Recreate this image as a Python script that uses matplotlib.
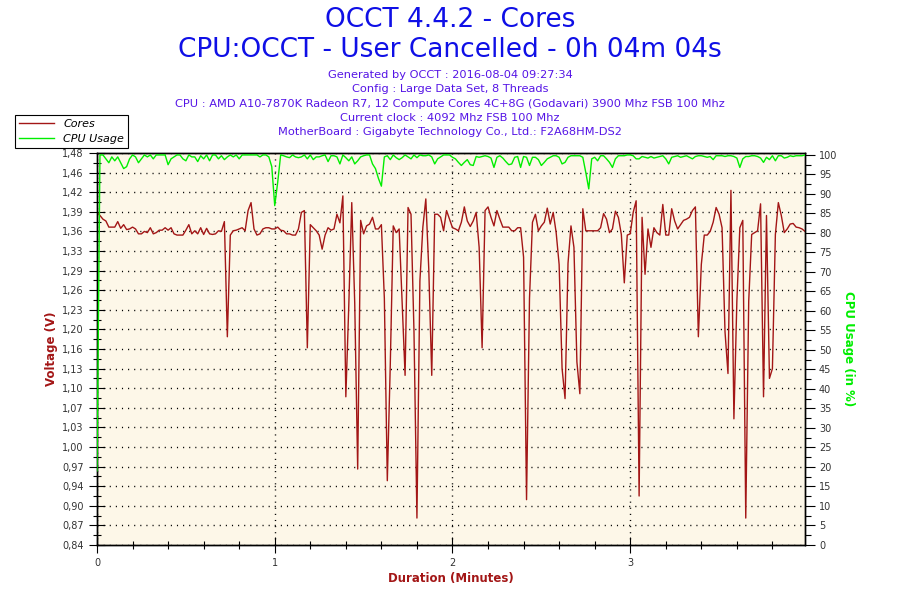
import numpy as np
import matplotlib
matplotlib.use('Agg')
from matplotlib import pyplot as plt
from matplotlib.ticker import MultipleLocator, FixedLocator

# naglowek wykresu
title = 'OCCT 4.4.2 - Cores'
subtitle = 'CPU:OCCT - User Cancelled - 0h 04m 04s'
info_lines = [
    'Generated by OCCT : 2016-08-04 09:27:34',
    'Config : Large Data Set, 8 Threads',
    'CPU : AMD A10-7870K Radeon R7, 12 Compute Cores 4C+8G (Godavari) 3900 Mhz FSB 100 Mhz',
    'Current clock : 4092 Mhz FSB 100 Mhz',
    'MotherBoard : Gigabyte Technology Co., Ltd.: F2A68HM-DS2',
]

# etykiety lewej osi (od dolu do gory)
volt_labels = ['0,84', '0,87', '0,90', '0,94', '0,97', '1,00', '1,03', '1,07',
               '1,10', '1,13', '1,16', '1,20', '1,23', '1,26', '1,29', '1,33',
               '1,36', '1,39', '1,42', '1,46', '1,48']
volt_min, volt_max = 0.84, 1.48
x_labels = ['0', '1', '2', '3']

# napiecie rdzeni [V], jedna probka na sekunde
voltage = [
    1.383, 1.378, 1.372, 1.369, 1.359, 1.359, 1.359, 1.368, 1.357, 1.363,
    1.355, 1.356, 1.359, 1.356, 1.348, 1.348, 1.352, 1.350, 1.358, 1.348,
    1.350, 1.354, 1.354, 1.358, 1.354, 1.358, 1.348, 1.346, 1.346, 1.346,
    1.354, 1.363, 1.348, 1.353, 1.348, 1.358, 1.347, 1.357, 1.348, 1.347,
    1.348, 1.353, 1.352, 1.368, 1.180, 1.346, 1.353, 1.354, 1.356, 1.358,
    1.353, 1.386, 1.399, 1.356, 1.346, 1.348, 1.356, 1.358, 1.358, 1.356,
    1.356, 1.359, 1.354, 1.353, 1.348, 1.348, 1.346, 1.346, 1.356, 1.383,
    1.386, 1.162, 1.363, 1.358, 1.353, 1.346, 1.323, 1.346, 1.358, 1.354,
    1.356, 1.380, 1.366, 1.410, 1.082, 1.232, 1.399, 1.235, 0.964, 1.370,
    1.348, 1.361, 1.364, 1.375, 1.356, 1.356, 1.363, 1.243, 0.945, 1.134,
    1.361, 1.350, 1.356, 1.238, 1.117, 1.391, 1.380, 1.189, 0.884, 1.271,
    1.359, 1.405, 1.290, 1.117, 1.380, 1.380, 1.375, 1.353, 1.386, 1.372,
    1.358, 1.356, 1.353, 1.367, 1.392, 1.369, 1.360, 1.369, 1.383, 1.326,
    1.162, 1.386, 1.392, 1.375, 1.361, 1.386, 1.372, 1.359, 1.359, 1.359,
    1.353, 1.353, 1.358, 1.358, 1.310, 0.914, 1.243, 1.367, 1.380, 1.353,
    1.361, 1.367, 1.390, 1.364, 1.383, 1.350, 1.298, 1.128, 1.079, 1.300,
    1.361, 1.326, 1.139, 1.087, 1.389, 1.353, 1.353, 1.353, 1.353, 1.353,
    1.358, 1.381, 1.372, 1.350, 1.356, 1.385, 1.375, 1.347, 1.268, 1.346,
    1.348, 1.383, 1.402, 0.920, 1.375, 1.282, 1.356, 1.326, 1.358, 1.350,
    1.346, 1.396, 1.346, 1.346, 1.389, 1.369, 1.356, 1.363, 1.370, 1.372,
    1.375, 1.386, 1.392, 1.180, 1.298, 1.346, 1.346, 1.352, 1.367, 1.391,
    1.380, 1.358, 1.188, 1.120, 1.419, 1.046, 1.238, 1.358, 1.370, 0.884,
    1.238, 1.347, 1.350, 1.353, 1.397, 1.082, 1.378, 1.112, 1.128, 1.347,
    1.399, 1.378, 1.350, 1.356, 1.364, 1.365, 1.359, 1.358, 1.356, 1.352,
]

# obciazenie CPU [%]
cpu_usage = [
    19, 100, 100, 99, 98, 99.5, 98.5, 99.5, 98, 96.5,
    97, 99, 100, 99.5, 98, 99, 100, 99.5, 100, 99,
    100, 100, 100, 100, 97.5, 99, 99.5, 100, 100, 99,
    98.5, 100, 99.5, 99.5, 98.3, 99.8, 99, 100, 98.5, 100,
    100, 99, 99.8, 98.8, 99.5, 100, 99.5, 100, 99, 100,
    100, 100, 100, 100, 100, 99.5, 100, 100, 99.5, 97,
    87, 93, 100, 99.8, 99.5, 99.3, 100, 99.5, 99.3, 99.5,
    100, 99, 100, 98.8, 99.5, 99.5, 99.8, 100, 98.3, 99.8,
    99.8, 99.5, 97.7, 100, 99.3, 98.5, 99.5, 97.7, 98.5, 99.5,
    99.8, 100, 100, 97.7, 96.5, 94, 92, 99.5, 99.8, 98.8,
    100, 99.3, 98.8, 99.3, 100, 99.5, 99, 100, 99.3, 100,
    99.8, 99.8, 100, 99.5, 97.7, 99, 99.5, 100, 100, 100,
    99.4, 99.0, 98.1, 97.3, 98.1, 98.8, 97.5, 97.3, 99.6, 99.4,
    99.6, 99.8, 99.6, 99.2, 96.8, 99.4, 99.8, 99.2, 98.3, 97.5,
    97.7, 99.4, 99.6, 96.8, 99.6, 99.4, 97.3, 99.4, 99.4, 98.8,
    97.3, 98.1, 99.0, 99.4, 99.8, 99.8, 99.4, 97.7, 98.1, 99.4,
    99.8, 99.8, 99.8, 99.8, 99.4, 95.5, 91.3, 99.0, 99.4, 98.5,
    99.8, 99.8, 99.0, 98.1, 96.8, 99.0, 99.8, 99.8, 99.8, 100,
    100, 99.8, 99.0, 99.0, 99.6, 99.4, 99.2, 99.6, 99.2, 99.4,
    99.6, 99.8, 99.0, 97.7, 99.4, 99.6, 99.8, 99.4, 99.6, 99.8,
    99.4, 99.0, 99.6, 99.8, 99.8, 99.6, 99.4, 99.6, 98.8, 99.8,
    99.8, 99.8, 99.6, 99.8, 99.8, 99.6, 99.2, 96.8, 99.0, 99.6,
    99.6, 99.8, 99.8, 99.6, 99.2, 98.1, 99.4, 98.8, 99.8, 98.5,
    99.8, 99.8, 99.2, 99.4, 99.8, 99.6, 99.8, 99.8, 99.8, 100,
]

RED = '#A31616'
GREEN = '#00EE00'
BLUE = '#0F0FE6'
PURPLE = '#5514E6'
TICK = '#333333'


def style_ticks(axis, which, direction, length):
    axis.tick_params(axis='both', which=which, direction=direction, length=length,
                     width=0.8, color='black', labelsize=7, labelcolor=TICK)


def plot_chart():
    t = np.arange(len(voltage)) / 60.0

    fig = plt.figure(figsize=(9, 6), dpi=100)
    fig.patch.set_facecolor('white')

    fig.text(0.5, 1 - 20 / 600, title, ha='center', va='center', fontsize=19, color=BLUE)
    fig.text(0.5, 1 - 50 / 600, subtitle, ha='center', va='center', fontsize=19, color=BLUE)
    for i, line in enumerate(info_lines):
        fig.text(0.5, 1 - (75 + i * 14.3) / 600, line, ha='center', va='center',
                 fontsize=8.2, color=PURPLE)

    ax = fig.add_axes([97 / 900, 55 / 600, 708 / 900, 392 / 600])
    ax.set_facecolor('#FDF7E8')
    ax2 = ax.twinx()

    l1, = ax.plot(t, voltage, color=RED, lw=1.0, zorder=3)
    l2, = ax2.plot(t, cpu_usage, color=GREEN, lw=1.0, zorder=3)

    ax.set_xlim(0, t[-1])
    ax.set_ylim(volt_min, volt_max)
    ax2.set_ylim(0, 100.5)

    yt = np.linspace(volt_min, volt_max, len(volt_labels))
    ax.yaxis.set_major_locator(FixedLocator(yt))
    ax.set_yticklabels(volt_labels)
    ax.yaxis.set_minor_locator(FixedLocator((yt[:-1] + yt[1:]) / 2))
    ax.xaxis.set_major_locator(FixedLocator(range(len(x_labels))))
    ax.set_xticklabels(x_labels)
    ax.xaxis.set_minor_locator(MultipleLocator(0.2))
    ax2.yaxis.set_major_locator(MultipleLocator(5))
    ax2.yaxis.set_minor_locator(MultipleLocator(2.5))

    style_ticks(ax, 'major', 'inout', 12)
    style_ticks(ax, 'minor', 'inout', 6)
    ax2.tick_params(axis='y', which='major', direction='out', length=7, width=0.8,
                    labelsize=7, labelcolor=TICK, pad=3)
    ax2.tick_params(axis='y', which='minor', direction='out', length=4, width=0.8)

    ax.grid(True, which='major', color='black', linestyle=(0, (0.8, 3.6)), linewidth=1.0)
    ax.set_axisbelow(True)

    for a in (ax, ax2):
        for s in a.spines.values():
            s.set_linewidth(1.0)
            s.set_color('black')

    ax.set_ylabel('Voltage (V)', color=RED, fontweight='bold', fontsize=8.5, labelpad=3)
    ax2.set_ylabel('CPU Usage (in %)', color=GREEN, fontweight='bold', fontsize=8.5,
                   rotation=270, labelpad=13)
    ax.set_xlabel('Duration (Minutes)', color=RED, fontweight='bold', fontsize=8.5, labelpad=3)

    leg = fig.legend([l1, l2], ['Cores', 'CPU Usage'], loc='upper left',
                     bbox_to_anchor=(15 / 900, 1 - 115 / 600), borderaxespad=0,
                     fancybox=False, edgecolor='black', framealpha=1,
                     prop={'style': 'italic', 'size': 8}, handlelength=3.2,
                     borderpad=0.35, labelspacing=0.45, handletextpad=0.8)
    leg.get_frame().set_linewidth(0.8)

    fig.savefig('out.png', dpi=100)


if __name__ == '__main__':
    plot_chart()
